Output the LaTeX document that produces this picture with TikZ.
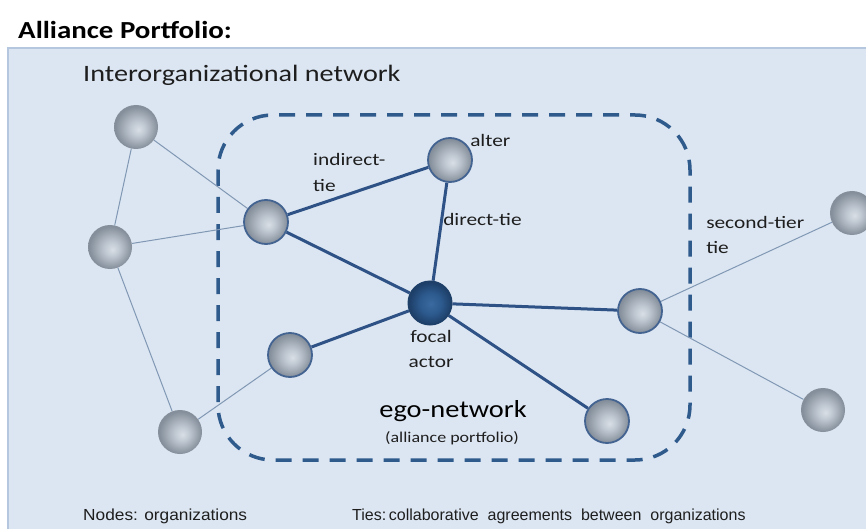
\documentclass[tikz,border=0pt]{standalone}
\usepackage{fontspec}
\setmainfont{Carlito}
\newfontfamily\arialfont{Liberation Sans}
\usetikzlibrary{backgrounds}
\definecolor{panelbg}{HTML}{DCE6F2}
\definecolor{panelline}{HTML}{B4C7DF}
\definecolor{egoblue}{HTML}{2F5A8C}
\definecolor{tieblue}{HTML}{2E5285}
\definecolor{thinblue}{HTML}{8198B4}
\definecolor{orbhi}{HTML}{D9DFE6}
\definecolor{orbmid}{HTML}{BAC3CD}
\definecolor{orbedge}{HTML}{858F9B}
\definecolor{foshi}{HTML}{3A6AA0}
\definecolor{fosmid}{HTML}{2D5A8E}
\definecolor{fosedge}{HTML}{1D3F68}
\definecolor{txt}{HTML}{1E1E1E}
\pgfdeclareradialshading{orb}{\pgfpoint{3bp}{-3bp}}{color(0bp)=(orbhi); color(10bp)=(orbmid); color(24bp)=(orbedge); color(30bp)=(orbedge)}
\pgfdeclareradialshading{fos}{\pgfpoint{1bp}{-1bp}}{color(0bp)=(foshi); color(12bp)=(fosmid); color(24bp)=(fosedge); color(30bp)=(fosedge)}
\tikzset{
  outer/.style={circle, minimum size=44pt, inner sep=0pt, shading=orb},
  inner/.style={outer, draw=tieblue!90!white, line width=1.8pt},
  focal/.style={circle, minimum size=44pt, inner sep=0pt, shading=fos, draw=fosedge, line width=1pt},
  thin/.style={draw=thinblue, line width=1pt},
  thick/.style={draw=tieblue, line width=3pt},
  lab/.style={font=\fontsize{17.5}{21}\selectfont, text=txt, align=left, inner sep=0pt, xscale=1.22},
}
\begin{document}
\begin{tikzpicture}[x=1pt,y=-1pt]
\useasboundingbox (0,0) rectangle (866,529);
% nodes
\node[outer] (A) at (136,127) {};
\node[outer] (B) at (110,247) {};
\node[outer] (C) at (180,432) {};
\node[outer] (H) at (852,213) {};
\node[outer] (I) at (823,410) {};
\node[inner] (D) at (266,222) {};
\node[inner] (alt) at (450,160) {};
\node[inner] (E) at (290,355) {};
\node[inner] (F) at (640,311) {};
\node[inner] (G) at (607,421) {};
\node[focal] (foc) at (430,303) {};
\begin{scope}[on background layer]
  \fill[white] (0,0) rectangle (866,529);
  \fill[panelbg] (8,48) rectangle (880,540);
  \draw[panelline, line width=2pt] (8,540) -- (8,48) -- (880,48);
  \draw[egoblue, line width=3.5pt, dash pattern=on 16pt off 11pt, rounded corners=55pt] (218,115) rectangle (690,460);
  \draw[thin] (A) -- (B);
  \draw[thin] (A) -- (D);
  \draw[thin] (B) -- (D);
  \draw[thin] (B) -- (C);
  \draw[thin] (C) -- (E);
  \draw[thin] (F) -- (H);
  \draw[thin] (F) -- (I);
  \draw[thick] (D) -- (alt);
  \draw[thick] (D) -- (foc);
  \draw[thick] (alt) -- (foc);
  \draw[thick] (foc) -- (F);
  \draw[thick] (foc) -- (E);
  \draw[thick] (foc) -- (G);
\end{scope}
% texts
\node[anchor=west, inner sep=0pt, font=\fontsize{24.5}{28}\bfseries\selectfont, text=black, xscale=1.18] (title) at (18,30) {Alliance Portfolio:};
\node[anchor=west, inner sep=0pt, font=\fontsize{23.5}{28}\selectfont, text=txt, xscale=1.2] (net) at (83,75) {Interorganizational network};
\node[lab, anchor=north west] (ind) at (313,153) {indirect-\\[5pt]tie};
\node[lab, anchor=west] (altl) at (470,140) {alter};
\node[lab, anchor=west] (dir) at (443,219) {direct-tie};
\node[lab, anchor=north west] (sec) at (706,216) {second-tier\\[4pt]tie};
\node[lab, anchor=north, align=center] (focl) at (431,330) {focal\\[4pt]actor};
\node[inner sep=0pt, font=\fontsize{24.5}{28}\selectfont, text=black, xscale=1.16] (ego) at (453,411) {ego-network};
\node[inner sep=0pt, font=\fontsize{15}{17}\selectfont, text=txt, xscale=1.2] (egosub) at (452,438) {(alliance portfolio)};
\node[anchor=west, inner sep=0pt, font=\arialfont\fontsize{16}{18}\selectfont, text=txt, xscale=1.08] (nodes) at (83,516) {Nodes: organizations};
\node[anchor=west, inner sep=0pt, font=\arialfont\fontsize{16}{18}\selectfont, text=txt] (ties) at (352,516) {Ties:\,collaborative\ \ agreements\ \ between\ \ organizations};
\end{tikzpicture}
\end{document}
